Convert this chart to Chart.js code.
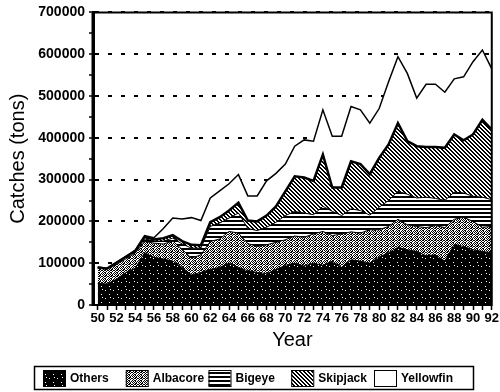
<!DOCTYPE html>
<html>
<head>
<meta charset="utf-8">
<script src="https://cdn.jsdelivr.net/npm/chart.js@4.4.0/dist/chart.umd.min.js"></script>
<style>
  html, body { margin: 0; padding: 0; background: #fff; }
  canvas { display: block; }
</style>
</head>
<body>
<canvas id="catchChart" width="500" height="392"></canvas>
<script>
// === Data (tons) ===
const years = [50, 51, 52, 53, 54, 55, 56, 57, 58, 59, 60, 61, 62, 63, 64, 65, 66, 67, 68, 69, 70,
               71, 72, 73, 74, 75, 76, 77, 78, 79, 80, 81, 82, 83, 84, 85, 86, 87, 88, 89, 90, 91, 92];

const others    = [52000, 50000, 62000, 78000, 88000, 125000, 114000, 110000, 105000, 90000, 72000,
                   78000, 85000, 90000, 100000, 90000, 82000, 78000, 75000, 85000, 95000,
                   100000, 93000, 100000, 95000, 105000, 90000, 108000, 105000, 100000, 115000,
                   125000, 138000, 132000, 128000, 118000, 120000, 105000, 145000, 140000, 132000, 128000, 125000];
const albacore  = [36000, 35000, 35000, 32000, 36000, 27000, 34000, 36000, 48000, 43000, 40000,
                   42000, 67000, 68000, 76000, 82000, 65000, 62000, 69000, 65000, 61000,
                   65000, 69000, 70000, 81000, 61000, 80000, 67000, 67000, 80000, 65000,
                   63000, 67000, 60000, 60000, 67000, 70000, 80000, 60000, 70000, 68000, 58000, 63000];
const bigeye    = [1000, 1000, 2000, 3000, 3000, 6000, 5000, 7000, 7000, 13000, 24000,
                   16000, 36000, 38000, 32000, 48000, 36000, 38000, 42000, 48000, 58000,
                   59000, 58000, 46000, 60000, 58000, 44000, 55000, 54000, 35000, 54000,
                   62000, 67000, 73000, 68000, 73000, 65000, 65000, 65000, 58000, 60000, 72000, 64000];
const skipjack  = [1000, 1000, 2000, 2000, 2000, 5000, 4000, 7000, 7000, 7000, 8000,
                   7000, 10000, 14000, 18000, 25000, 19000, 22000, 28000, 38000, 58000,
                   84000, 85000, 81000, 124000, 57000, 67000, 114000, 111000, 98000, 118000,
                   134000, 163000, 127000, 124000, 120000, 123000, 126000, 138000, 126000, 148000, 185000, 168000];
const yellowfin = [1000, 1000, 1000, 1000, 2000, 3000, 4000, 23000, 41000, 53000, 65000,
                   59000, 58000, 63000, 64000, 67000, 59000, 61000, 83000, 79000, 65000,
                   72000, 90000, 95000, 107000, 123000, 123000, 131000, 130000, 122000, 118000,
                   150000, 159000, 162000, 115000, 150000, 150000, 133000, 133000, 152000, 174000, 167000, 145000];

const seriesNames = ["Others", "Albacore", "Bigeye", "Skipjack", "Yellowfin"];
const seriesValues = [others, albacore, bigeye, skipjack, yellowfin];
const yTicks = [0, 100000, 200000, 300000, 400000, 500000, 600000, 700000];

// === Fill patterns (1-bit look) ===
function makePattern(w, h, bg, fg, pixels) {
    const tile = document.createElement("canvas");
    tile.width = w;
    tile.height = h;
    const t = tile.getContext("2d");
    t.fillStyle = bg;
    t.fillRect(0, 0, w, h);
    t.fillStyle = fg;
    pixels.forEach(([x, y]) => t.fillRect(x, y, 1, 1));
    return t.createPattern(tile, "repeat");
}

// black with sparse white specks
const patOthers = makePattern(8, 8, "#000", "#fff", [[1, 2], [5, 6], [6, 1]]);
// white with dense black stipple
const patAlbacore = makePattern(6, 6, "#fff", "#000", [
    [0, 0], [2, 0], [3, 0], [5, 0], [1, 1], [4, 1], [0, 2], [2, 2], [3, 2],
    [1, 3], [3, 3], [5, 3], [0, 4], [2, 4], [4, 4], [1, 5], [3, 5], [4, 5]
]);
// horizontal lines
const patBigeye = makePattern(4, 4, "#fff", "#000", [
    [0, 0], [1, 0], [2, 0], [3, 0], [0, 1], [1, 1], [2, 1], [3, 1]
]);
// diagonal hatch "\"
const patSkipjack = makePattern(4, 4, "#fff", "#000", [
    [0, 0], [1, 1], [2, 2], [3, 3], [1, 0], [2, 1], [3, 2], [0, 3]
]);
const fills = [patOthers, patAlbacore, patBigeye, patSkipjack, "#fff"];
const borderWidths = [1, 1, 1, 2.5, 1.5];

// === Legend box and plot frame ===
const legendBox = {
    id: "legendBox",
    afterDraw(chart) {
        const c = chart.ctx;
        c.save();
        c.strokeStyle = "#000";
        c.lineWidth = 1.5;
        c.strokeRect(34.5, 366.5, 439, 23);
        c.font = "bold 12px 'Liberation Sans', Arial, sans-serif";
        c.textBaseline = "middle";
        c.fillStyle = "#000";
        chart.data.datasets.forEach((ds, i) => {
            const x = 43 + i * 82.75;
            c.fillStyle = ds.backgroundColor;
            c.fillRect(x, 370, 22, 16);
            c.strokeStyle = "#000";
            c.lineWidth = 1;
            c.strokeRect(x + 0.5, 370.5, 22, 16);
            c.fillStyle = "#000";
            c.fillText(ds.label, x + 27, 378.5);
        });
        c.restore();
    }
};

const plotFrame = {
    id: "plotFrame",
    afterDatasetsDraw(chart) {
        const {left, right, top, bottom} = chart.chartArea;
        const c = chart.ctx;
        c.save();
        c.strokeStyle = "#000";
        c.lineWidth = 2;
        c.beginPath();
        c.moveTo(left, top);
        c.lineTo(right, top);
        c.lineTo(right, bottom);
        c.lineTo(left, bottom);
        c.stroke();
        c.lineWidth = 3;
        c.beginPath();
        c.moveTo(left, top);
        c.lineTo(left, bottom + 1);
        c.stroke();
        c.restore();
    }
};

// === Chart ===
const ctx = document.getElementById("catchChart").getContext("2d");

const chart = new Chart(ctx, {
    type: "line",
    data: {
        datasets: seriesNames.map((name, i) => ({
            label: name,
            data: seriesValues[i].map((v, j) => ({x: years[j], y: v})),
            backgroundColor: fills[i],
            borderColor: "#000",
            borderWidth: borderWidths[i],
            fill: i === 0 ? "origin" : "-1",
            pointRadius: 0,
            tension: 0
        }))
    },
    options: {
        responsive: false,
        animation: false,
        devicePixelRatio: 1,
        layout: { padding: { top: 9, right: 7, left: 0, bottom: 32 } },
        plugins: {
            legend: { display: false },
            tooltip: { enabled: false }
        },
        scales: {
            x: {
                type: "linear",
                min: 49.5,
                max: 92,
                afterFit: (s) => { s.height = 55; },
                ticks: {
                    stepSize: 1,
                    includeBounds: false,
                    autoSkip: false,
                    maxRotation: 0,
                    padding: 1,
                    color: "#000",
                    font: { family: "'Liberation Sans', Arial, sans-serif", size: 13, weight: "bold" },
                    callback: (v) => (v % 2 === 0 ? String(v) : "")
                },
                grid: {
                    drawOnChartArea: false,
                    drawTicks: true,
                    tickLength: 5,
                    tickColor: "#000",
                    tickWidth: 1.5
                },
                border: { color: "#000", width: 2 },
                title: {
                    display: true,
                    text: "Year",
                    color: "#000",
                    font: { family: "'Liberation Sans', Arial, sans-serif", size: 20 },
                    padding: { top: 0, bottom: 8 }
                }
            },
            y: {
                stacked: true,
                min: 0,
                max: 700000,
                afterFit: (s) => { s.width = 93; },
                afterBuildTicks: (s) => {
                    const minor = [];
                    yTicks.forEach((v, i) => {
                        minor.push({value: v});
                        if (i < yTicks.length - 1) minor.push({value: v + 50000});
                    });
                    s.ticks = minor;
                },
                ticks: {
                    padding: 4,
                    color: "#000",
                    font: { family: "'Liberation Sans', Arial, sans-serif", size: 14, weight: "bold" },
                    callback: (v) => (yTicks.includes(v) ? String(v) : "")
                },
                grid: {
                    color: (c) => (c.tick && yTicks.includes(c.tick.value) && c.tick.value > 0 ? "#000" : "rgba(0,0,0,0)"),
                    lineWidth: 2,
                    drawTicks: true,
                    tickLength: 4,
                    tickColor: "#000",
                    tickWidth: 1.5
                },
                border: { color: "#000", width: 3, dash: [4, 9] },
                title: {
                    display: true,
                    text: "Catches (tons)",
                    color: "#000",
                    font: { family: "'Liberation Sans', Arial, sans-serif", size: 20 },
                    padding: { top: 6, bottom: 0 }
                }
            }
        }
    },
    plugins: [legendBox, plotFrame]
});
</script>
</body>
</html>
